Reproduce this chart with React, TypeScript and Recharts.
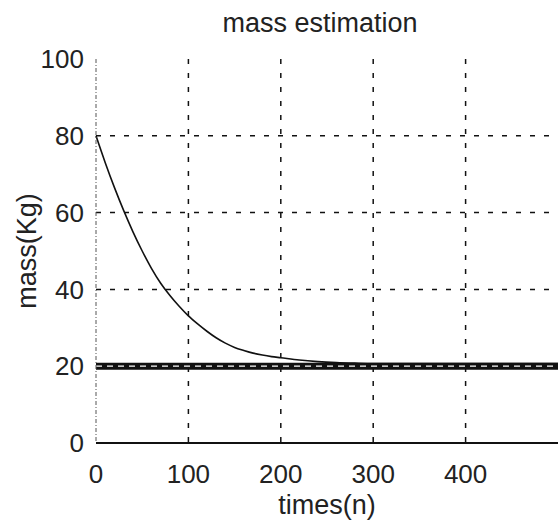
import { CartesianGrid, Line, LineChart, XAxis, YAxis } from "recharts";

const TIMES = [
  0, 10, 20, 30, 40, 50, 60, 70, 80, 90, 100, 110, 120, 130, 140, 150, 160, 170, 180, 190, 200, 220,
  240, 260, 280, 300, 350, 400, 450, 500,
];
const MASS_EST = [
  80, 73, 66.5, 60.5, 55, 50, 45.5, 41.6, 38.4, 35.6, 33.1, 31, 29.1, 27.4, 26, 24.9, 24.1, 23.4,
  22.9, 22.5, 22.2, 21.6, 21.2, 20.95, 20.8, 20.7, 20.7, 20.7, 20.7, 20.7,
];
const TRUE_MASS = 20;
const X_TICKS = [0, 100, 200, 300, 400];
const Y_TICKS = [0, 20, 40, 60, 80, 100];

const FONT = "'Liberation Sans', Arial, sans-serif";

const data = TIMES.map((t, i) => ({ t, est: MASS_EST[i], real: TRUE_MASS }));

export default function App() {
  return (
    <div
      style={{
        position: "absolute",
        left: 0,
        top: 0,
        width: 560,
        height: 528,
        background: "#fff",
        fontFamily: FONT,
      }}
    >
      <div
        style={{
          position: "absolute",
          left: 0,
          width: 640,
          top: 8,
          textAlign: "center",
          fontSize: 27,
          color: "#222",
        }}
      >
        mass estimation
      </div>
      <LineChart
        width={560}
        height={528}
        data={data}
        margin={{ top: 59, right: 2, bottom: 0, left: 0 }}
      >
        <CartesianGrid
          stroke="#111"
          strokeWidth={1.5}
          strokeDasharray="5 9"
          horizontalValues={[20, 40, 60, 80]}
          verticalValues={[100, 200, 300, 400]}
        />
        <XAxis
          dataKey="t"
          type="number"
          domain={[0, 500]}
          ticks={X_TICKS}
          tickLine={false}
          tickSize={20}
          tickMargin={2}
          height={85}
          axisLine={{ stroke: "#111", strokeWidth: 2 }}
          tick={{ fontSize: 26, fill: "#222", fontFamily: FONT }}
          label={{
            content: ({ viewBox }: any) => (
              <text
                x={viewBox.x + viewBox.width / 2}
                y={514}
                textAnchor="middle"
                fontSize={27}
                fontFamily={FONT}
                fill="#222"
              >
                times(n)
              </text>
            ),
          }}
        />
        <XAxis
          xAxisId="top"
          dataKey="t"
          type="number"
          domain={[0, 500]}
          orientation="top"
          height={0}
          tick={false}
          tickLine={false}
          axisLine={{ stroke: "#111", strokeWidth: 2 }}
        />
        <YAxis
          type="number"
          domain={[0, 100]}
          ticks={Y_TICKS}
          width={96}
          tickLine={false}
          tickSize={10}
          tickMargin={2}
          axisLine={{ stroke: "#555", strokeWidth: 1, strokeDasharray: "4 2 1 2" }}
          tick={{ fontSize: 26, fill: "#222", fontFamily: FONT }}
          label={{
            content: ({ viewBox }: any) => {
              const cy = viewBox.y + viewBox.height / 2;
              return (
                <text
                  x={27}
                  y={cy}
                  transform={`rotate(-90, 27, ${cy})`}
                  textAnchor="middle"
                  dominantBaseline="central"
                  fontSize={27}
                  fontFamily={FONT}
                  fill="#222"
                >
                  mass(Kg)
                </text>
              );
            },
          }}
        />
        <YAxis
          yAxisId="right"
          orientation="right"
          type="number"
          domain={[0, 100]}
          width={0}
          tick={false}
          tickLine={false}
          axisLine={{ stroke: "#555", strokeWidth: 1, strokeDasharray: "4 2 1 2" }}
        />
        <Line
          dataKey="real"
          stroke="#111"
          strokeWidth={7}
          dot={false}
          isAnimationActive={false}
        />
        <Line
          dataKey="real"
          stroke="#fff"
          strokeWidth={1.2}
          strokeDasharray="6 5"
          dot={false}
          isAnimationActive={false}
        />
        <Line
          dataKey="est"
          type="monotone"
          stroke="#111"
          strokeWidth={1.6}
          dot={false}
          isAnimationActive={false}
        />
      </LineChart>
    </div>
  );
}
